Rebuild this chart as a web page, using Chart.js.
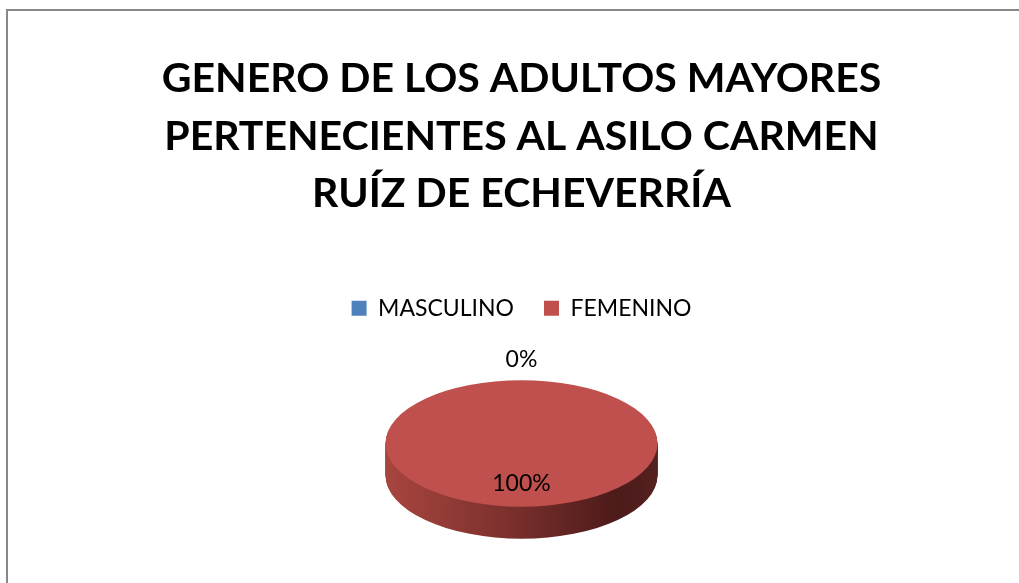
<!DOCTYPE html>
<html>
<head>
<meta charset="utf-8">
<script src="https://cdn.jsdelivr.net/npm/chart.js@4"></script>
<style>
  html, body { margin: 0; padding: 0; background: #fff; }
  #wrap { position: relative; width: 1019px; height: 583px; overflow: hidden; }
  #frame {
    position: absolute; left: 6px; top: 9px; width: 1100px; height: 700px;
    border-left: 2px solid #878787; border-top: 2px solid #878787;
    pointer-events: none;
  }
  canvas { position: absolute; left: 0; top: 0; }
</style>
</head>
<body>
<div id="wrap">
  <canvas id="chart" width="1019" height="583"></canvas>
  <div id="frame"></div>
</div>
<script>
// --- DATOS ---
const categorias = ['MASCULINO', 'FEMENINO'];
const porcentajes = [0, 100];
const colores = ['#4F81BD', '#C0504D'];
const tituloLineas = ['GENERO DE LOS ADULTOS MAYORES', 'PERTENECIENTES AL ASILO CARMEN', 'RUÍZ DE ECHEVERRÍA'];

// --- ESTILO 3D ---
const inclinacion = 0.465;   // alto/ancho de la elipse
const profundidad = 32;       // px del borde lateral

// Plugin: aplasta el pastel y dibuja el costado
const pastel3d = {
  id: 'pastel3d',
  beforeDatasetsDraw(chart) {
    const ctx = chart.ctx;
    const arcs = chart.getDatasetMeta(0).data;
    const cx = arcs[0].x, cy = arcs[0].y, r = arcs[0].outerRadius;
    ctx.save();
    ctx.translate(cx, cy);
    ctx.scale(1, inclinacion);
    ctx.translate(-cx, -cy);

    const grad = ctx.createLinearGradient(cx - r, 0, cx + r, 0);
    grad.addColorStop(0, '#A8453F');
    grad.addColorStop(0.45, '#7C302D');
    grad.addColorStop(0.85, '#4C1B1A');
    grad.addColorStop(1, '#552020');
    ctx.fillStyle = grad;
    for (let d = profundidad; d > 0; d--) {
      arcs.forEach(a => {
        if (a.endAngle - a.startAngle <= 0) return;
        ctx.beginPath();
        ctx.moveTo(a.x, a.y + d / inclinacion);
        ctx.arc(a.x, a.y + d / inclinacion, a.outerRadius, a.startAngle, a.endAngle);
        ctx.closePath();
        ctx.fill();
      });
    }
  },
  afterDatasetsDraw(chart) {
    const ctx = chart.ctx;
    ctx.restore();
    const arcs = chart.getDatasetMeta(0).data;
    const valores = chart.data.datasets[0].data;
    const total = valores.reduce((s, v) => s + v, 0);
    ctx.save();
    ctx.font = '23px Lato, "Open Sans", sans-serif';
    ctx.fillStyle = '#000';
    ctx.textAlign = 'center';
    ctx.textBaseline = 'middle';
    arcs.forEach((a, i) => {
      const mid = (a.startAngle + a.endAngle) / 2;
      const k = valores[i] === 0 ? 1.32 : 0.63;
      const x = a.x + Math.cos(mid) * a.outerRadius * k;
      const y = a.y + Math.sin(mid) * a.outerRadius * inclinacion * k;
      ctx.fillText(Math.round(valores[i] / total * 100) + '%', x, y);
    });
    ctx.restore();
  }
};

new Chart(document.getElementById('chart'), {
  type: 'pie',
  data: {
    labels: categorias,
    datasets: [{
      data: porcentajes,
      backgroundColor: colores,
      borderWidth: 0,
      radius: 136
    }]
  },
  options: {
    responsive: false,
    animation: false,
    layout: { padding: { left: 24, bottom: 26 } },
    plugins: {
      title: {
        display: true,
        text: tituloLineas,
        color: '#000',
        font: { family: 'Lato, "Open Sans", sans-serif', size: 41, weight: 'bold', lineHeight: 1.405 },
        padding: { top: 50, bottom: 44 }
      },
      legend: {
        position: 'top',
        labels: {
          color: '#000',
          font: { family: 'Lato, "Open Sans", sans-serif', size: 23 },
          boxWidth: 15,
          boxHeight: 15,
          padding: 30
        }
      },
      tooltip: { enabled: false }
    }
  },
  plugins: [pastel3d]
});
</script>
</body>
</html>
